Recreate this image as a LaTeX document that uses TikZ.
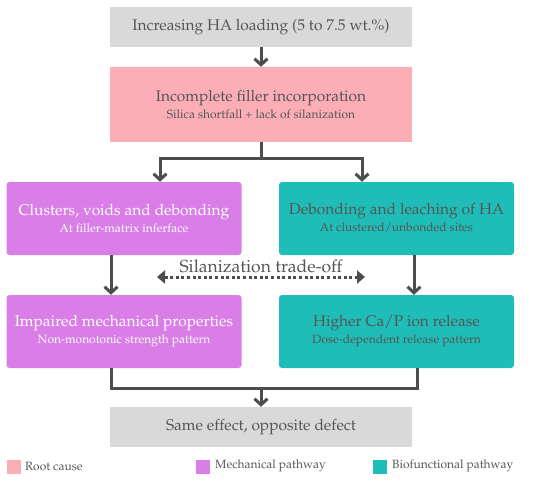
\documentclass[tikz,border=0pt]{standalone}
\usepackage[T1]{fontenc}
\usepackage{mathpazo}
\usetikzlibrary{arrows.meta}
\definecolor{gris}{HTML}{D9D9D9}
\definecolor{rosa}{HTML}{FCAEB6}
\definecolor{lila}{HTML}{D97EE6}
\definecolor{turq}{HTML}{1FBDB7}
\definecolor{tinta}{HTML}{555555}
\definecolor{linea}{HTML}{4D4D4D}
\tikzstyle{caja}=[inner sep=0pt,align=center,text=tinta,font=\fontsize{15.5}{16}\selectfont]
\tikzstyle{ancha}=[caja,minimum width=302pt]
\tikzstyle{lado}=[caja,minimum width=235pt,minimum height=73pt,rounded corners=3pt]
\tikzstyle{flecha}=[line width=3pt,draw=linea,-{Straight Barb[length=6pt,width=13pt,line width=3pt]}]
\tikzstyle{traza}=[line width=3pt,draw=linea]
\tikzstyle{leyenda}=[inner sep=0pt,minimum size=14pt]
\newcommand{\sub}[1]{{\fontsize{12}{13}\selectfont #1}}

\begin{document}
\begin{tikzpicture}[x=1pt,y=-1pt]
    \useasboundingbox (0,0) rectangle (550,483);
    \node [ancha,fill=gris,minimum height=40pt] (carga) at (261,27) {Increasing HA loading (5 to 7.5 wt.\%)};
    \node [ancha,fill=rosa,minimum height=75pt] (causa) at (261,104.5) {Incomplete filler incorporation\\[1pt]\sub{Silica shortfall + lack of silanization}};
    \node [lado,fill=lila,text=white] (grumos) at (124,218.5) {Clusters, voids and debonding\\[1pt]\sub{At filler-matrix inferface}};
    \node [lado,fill=turq] (lixivia) at (396.5,218.5) {Debonding and leaching of HA\\[1pt]\sub{At clustered/unbonded sites}};
    \node [lado,fill=lila,text=white] (mecan) at (124,331.5) {Impaired mechanical properties\\[1pt]\sub{Non-monotonic strength pattern}};
    \node [lado,fill=turq] (iones) at (396.5,331.5) {Higher Ca/P ion release\\[1pt]\sub{Dose-dependent release pattern}};
    \node [ancha,fill=gris,minimum height=40pt] (efecto) at (261,427) {Same effect, opposite defect};
    \node [caja,font=\fontsize{17.5}{18}\selectfont] (trade) at (261,266) {Silanization trade-off};

    \coordinate (sl) at (160,158);
    \coordinate (sr) at (362,158);
    \coordinate (ml) at (111,0);
    \coordinate (mr) at (414,0);
    \coordinate (jl) at (111,388);
    \coordinate (jr) at (417,388);
    \coordinate (tl) at (157,277);
    \coordinate (tr) at (365,277);

    \draw [flecha] (carga) -- (causa);
    \draw [traza] (causa.south) -- (causa.south |- sl);
    \draw [traza,line cap=rect] (sl) -- (sr);
    \draw [flecha] (sl) -- (sl |- grumos.north);
    \draw [flecha] (sr) -- (sr |- lixivia.north);
    \draw [flecha] (grumos.south -| ml) -- (mecan.north -| ml);
    \draw [flecha] (lixivia.south -| mr) -- (iones.north -| mr);
    \draw [traza] (mecan.south -| jl) -- (jl) -- (jr) -- (iones.south -| jr);
    \draw [flecha] (jl -| efecto) -- (efecto.north);
    \draw [line width=3pt,draw=linea,dash pattern=on 3pt off 2.6pt,{Triangle[length=8pt,width=13pt]}-{Triangle[length=8pt,width=13pt]}] (tl) -- (tr);

    % leyenda
    \node [leyenda,fill=rosa] (l1) at (13.5,467) {};
    \node [leyenda,fill=lila] (l2) at (203,467) {};
    \node [leyenda,fill=turq] (l3) at (380,467) {};
    \node [caja,anchor=west,font=\fontsize{12}{13}\selectfont] (t1) at (25,466) {Root cause};
    \node [caja,anchor=west,font=\fontsize{12}{13}\selectfont] (t2) at (215,466) {Mechanical pathway};
    \node [caja,anchor=west,font=\fontsize{12}{13}\selectfont] (t3) at (392,466) {Biofunctional pathway};
\end{tikzpicture}
\end{document}
